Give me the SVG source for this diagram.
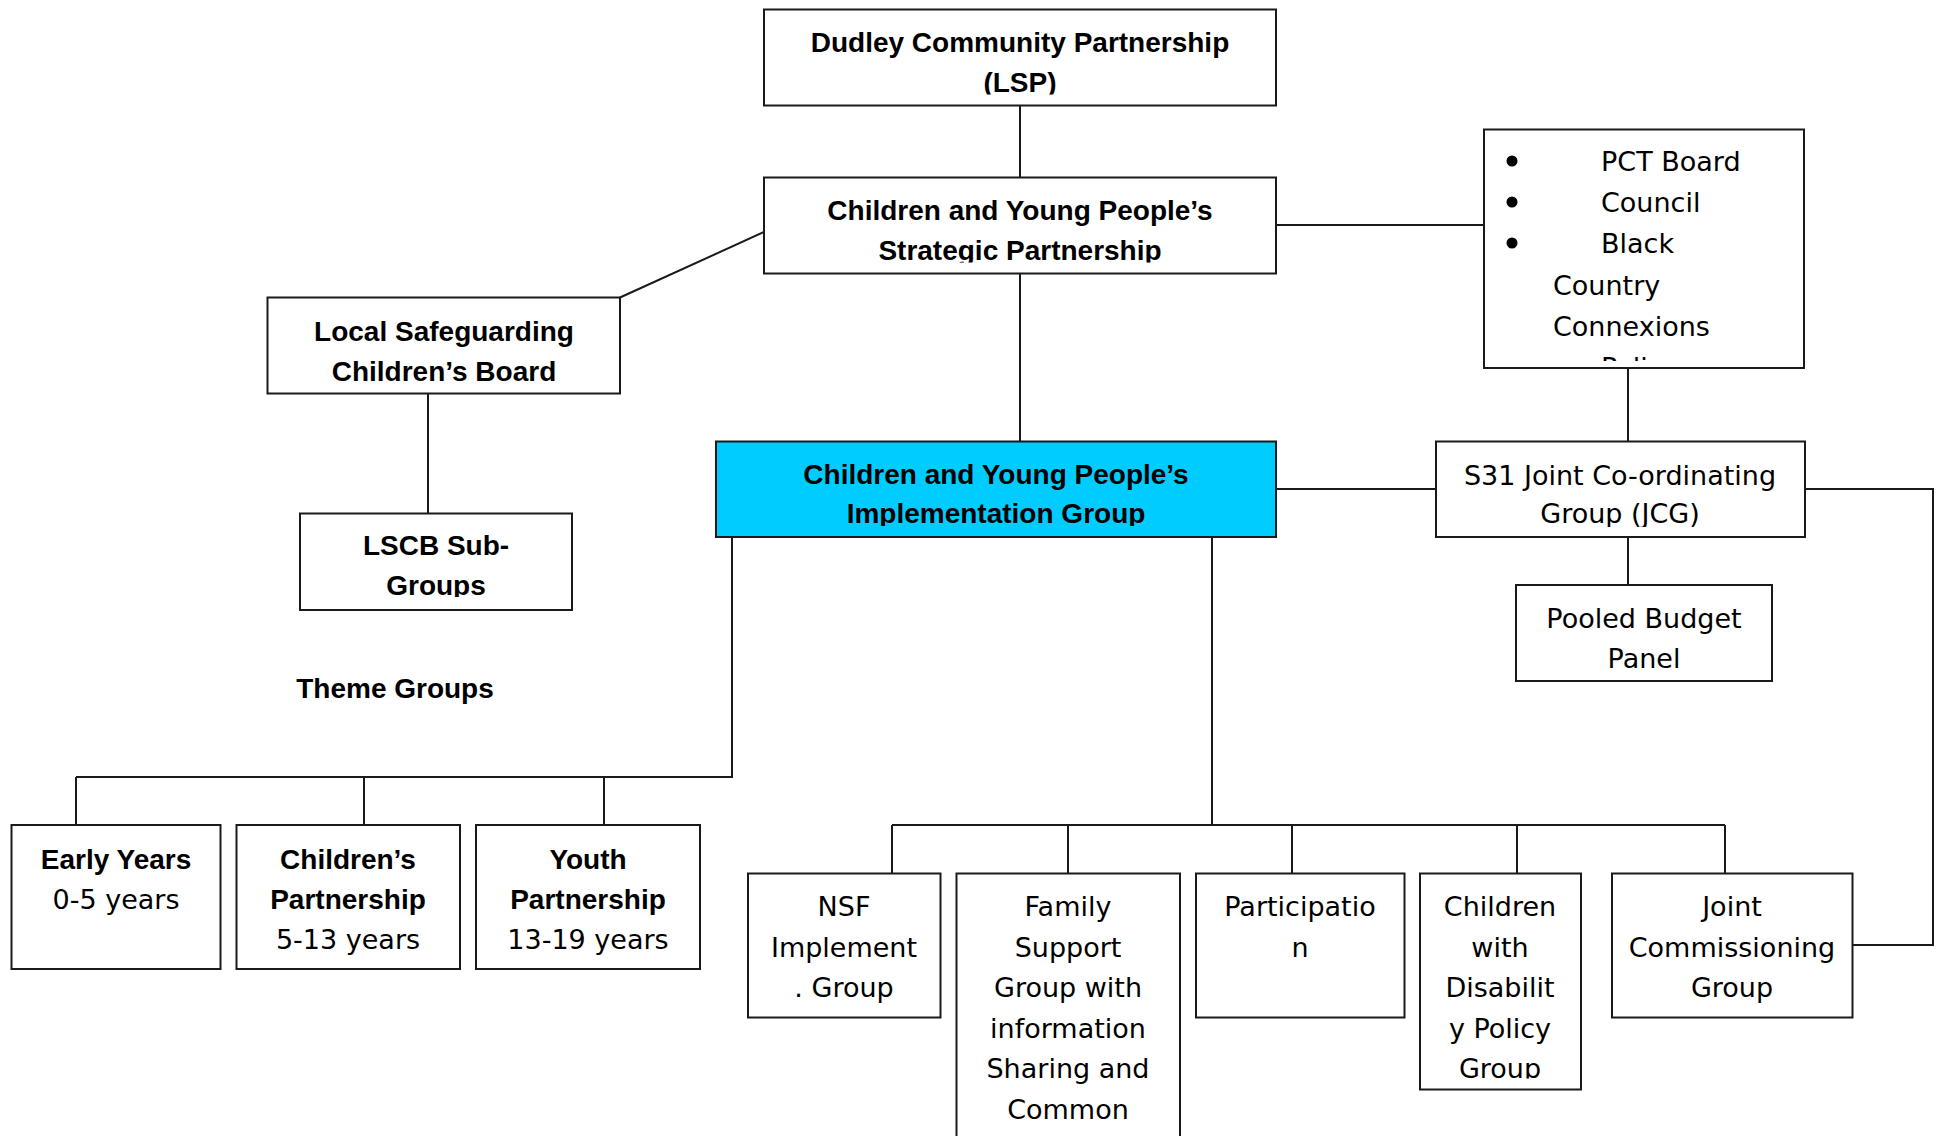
<svg xmlns="http://www.w3.org/2000/svg" width="1942" height="1136" viewBox="0 0 1942 1136">
<style>
.box{fill:#ffffff;stroke:#1a1a1a;stroke-width:2}
.impl{fill:#00ccff}
.b{font-family:"Liberation Sans",Arial,sans-serif;font-weight:bold;font-size:28px;text-anchor:middle;fill:#000}
.r{font-family:"DejaVu Sans",Verdana,sans-serif;font-size:27px;text-anchor:middle;fill:#000}
.l{font-family:"DejaVu Sans",Verdana,sans-serif;font-size:27px;fill:#000}
.conn{fill:none;stroke:#1a1a1a;stroke-width:2}
</style>
<defs>
<clipPath id="c-dudley"><rect x="766" y="12" width="508" height="82.5"/></clipPath>
<clipPath id="c-strat"><rect x="766" y="180" width="508" height="82.5"/></clipPath>
<clipPath id="c-pct"><rect x="1486" y="132" width="316" height="229"/></clipPath>
<clipPath id="c-lscb"><rect x="269" y="300" width="349" height="82.5"/></clipPath>
<clipPath id="c-lscbsub"><rect x="302" y="516" width="268" height="81"/></clipPath>
<clipPath id="c-impl"><rect x="718" y="444" width="556" height="82"/></clipPath>
<clipPath id="c-jcg"><rect x="1438" y="444" width="365" height="83"/></clipPath>
<clipPath id="c-dis"><rect x="1422" y="876" width="157" height="202.5"/></clipPath>
</defs>
<rect x="0" y="0" width="1942" height="1136" fill="#ffffff"/>
<g id="connectors">
<line class="conn" x1="1020" y1="105.5" x2="1020" y2="177.5"/>
<line class="conn" x1="1020" y1="273.5" x2="1020" y2="441.5"/>
<line class="conn" x1="1276" y1="225" x2="1484" y2="225"/>
<line class="conn" x1="764" y1="232" x2="620" y2="297.5"/>
<line class="conn" x1="428" y1="393.5" x2="428" y2="513.5"/>
<line class="conn" x1="1628" y1="368" x2="1628" y2="441.5"/>
<line class="conn" x1="1276" y1="489" x2="1436" y2="489"/>
<line class="conn" x1="1628" y1="537" x2="1628" y2="585"/>
<path class="conn" d="M1805,489 H1933 V945 H1852.5"/>
<path class="conn" d="M732,537 V777 H76"/>
<path class="conn" d="M76,777 V825 M364,777 V825 M604,777 V825"/>
<path class="conn" d="M1212,537 V825 M892,825 H1725"/>
<path class="conn" d="M892,825 V873.5 M1068,825 V873.5 M1292,825 V873.5 M1517,825 V873.5 M1725,825 V873.5"/>
</g>
<g id="dudley">
<rect class="box" x="764" y="9.5" width="512" height="96"/>
<g clip-path="url(#c-dudley)">
<text class="b" x="1020" y="52">Dudley Community Partnership</text>
<text class="b" x="1020" y="92">(LSP)</text>
</g>
</g>
<g id="strategic">
<rect class="box" x="764" y="177.5" width="512" height="96"/>
<g clip-path="url(#c-strat)">
<text class="b" x="1020" y="220">Children and Young People’s</text>
<text class="b" x="1020" y="260">Strategic Partnership</text>
</g>
</g>
<g id="pct">
<rect class="box" x="1484" y="129.5" width="320" height="238.5"/>
<circle cx="1512" cy="161" r="5.5" fill="#000"/>
<circle cx="1512" cy="202" r="5.5" fill="#000"/>
<circle cx="1512" cy="243" r="5.5" fill="#000"/>
<g clip-path="url(#c-pct)">
<text class="l" x="1601" y="171">PCT Board</text>
<text class="l" x="1601" y="212">Council</text>
<text class="l" x="1601" y="253">Black</text>
<text class="l" x="1553" y="294.5">Country</text>
<text class="l" x="1553" y="335.5">Connexions</text>
<text class="l" x="1601" y="376.5">Police</text>
</g>
</g>
<g id="lscb">
<rect class="box" x="267.5" y="297.5" width="352.5" height="96"/>
<g clip-path="url(#c-lscb)">
<text class="b" x="444" y="341">Local Safeguarding</text>
<text class="b" x="444" y="381">Children’s Board</text>
</g>
</g>
<g id="lscb-sub">
<rect class="box" x="300" y="513.5" width="272" height="96.5"/>
<g clip-path="url(#c-lscbsub)">
<text class="b" x="436" y="555">LSCB Sub-</text>
<text class="b" x="436" y="595">Groups</text>
</g>
</g>
<g id="implementation">
<rect class="box impl" x="716" y="441.5" width="560" height="95.5"/>
<g clip-path="url(#c-impl)">
<text class="b" x="996" y="483.5">Children and Young People’s</text>
<text class="b" x="996" y="523">Implementation Group</text>
</g>
</g>
<g id="jcg">
<rect class="box" x="1436" y="441.5" width="369" height="95.5"/>
<g clip-path="url(#c-jcg)">
<text class="r" x="1620" y="485">S31 Joint Co-ordinating</text>
<text class="r" x="1620" y="523">Group (JCG)</text>
</g>
</g>
<g id="pooled">
<rect class="box" x="1516" y="585" width="256" height="96"/>
<text class="r" x="1644" y="627.5">Pooled Budget</text>
<text class="r" x="1644" y="668">Panel</text>
</g>
<g id="theme-label">
<text class="b" x="395" y="698">Theme Groups</text>
</g>
<g id="early-years">
<rect class="box" x="11.5" y="825" width="209" height="144"/>
<text class="b" x="116" y="868.5">Early Years</text>
<text class="r" x="116" y="908.5">0-5 years</text>
</g>
<g id="childrens-partnership">
<rect class="box" x="236.5" y="825" width="223.5" height="144"/>
<text class="b" x="348" y="868.5">Children’s</text>
<text class="b" x="348" y="908.5">Partnership</text>
<text class="r" x="348" y="949">5-13 years</text>
</g>
<g id="youth-partnership">
<rect class="box" x="476" y="825" width="224" height="144"/>
<text class="b" x="588" y="868.5">Youth</text>
<text class="b" x="588" y="908.5">Partnership</text>
<text class="r" x="588" y="949">13-19 years</text>
</g>
<g id="nsf">
<rect class="box" x="748" y="873.5" width="192.5" height="144"/>
<text class="r" x="844" y="916">NSF</text>
<text class="r" x="844" y="956.6">Implement</text>
<text class="r" x="844" y="997.2">. Group</text>
</g>
<g id="family-support">
<rect class="box" x="956.5" y="873.5" width="223.5" height="280"/>
<text class="r" x="1068" y="916">Family</text>
<text class="r" x="1068" y="956.6">Support</text>
<text class="r" x="1068" y="997.2">Group with</text>
<text class="r" x="1068" y="1037.8">information</text>
<text class="r" x="1068" y="1078.4">Sharing and</text>
<text class="r" x="1068" y="1119">Common</text>
</g>
<g id="participation">
<rect class="box" x="1196" y="873.5" width="208.5" height="144"/>
<text class="r" x="1300" y="916">Participatio</text>
<text class="r" x="1300" y="956.6">n</text>
</g>
<g id="disability">
<rect class="box" x="1420" y="873.5" width="161" height="216"/>
<g clip-path="url(#c-dis)">
<text class="r" x="1500" y="916">Children</text>
<text class="r" x="1500" y="956.6">with</text>
<text class="r" x="1500" y="997.2">Disabilit</text>
<text class="r" x="1500" y="1037.8">y Policy</text>
<text class="r" x="1500" y="1078.4">Group</text>
</g>
</g>
<g id="joint-commissioning">
<rect class="box" x="1612" y="873.5" width="240.5" height="144"/>
<text class="r" x="1732" y="916">Joint</text>
<text class="r" x="1732" y="956.6">Commissioning</text>
<text class="r" x="1732" y="997.2">Group</text>
</g>
</svg>
